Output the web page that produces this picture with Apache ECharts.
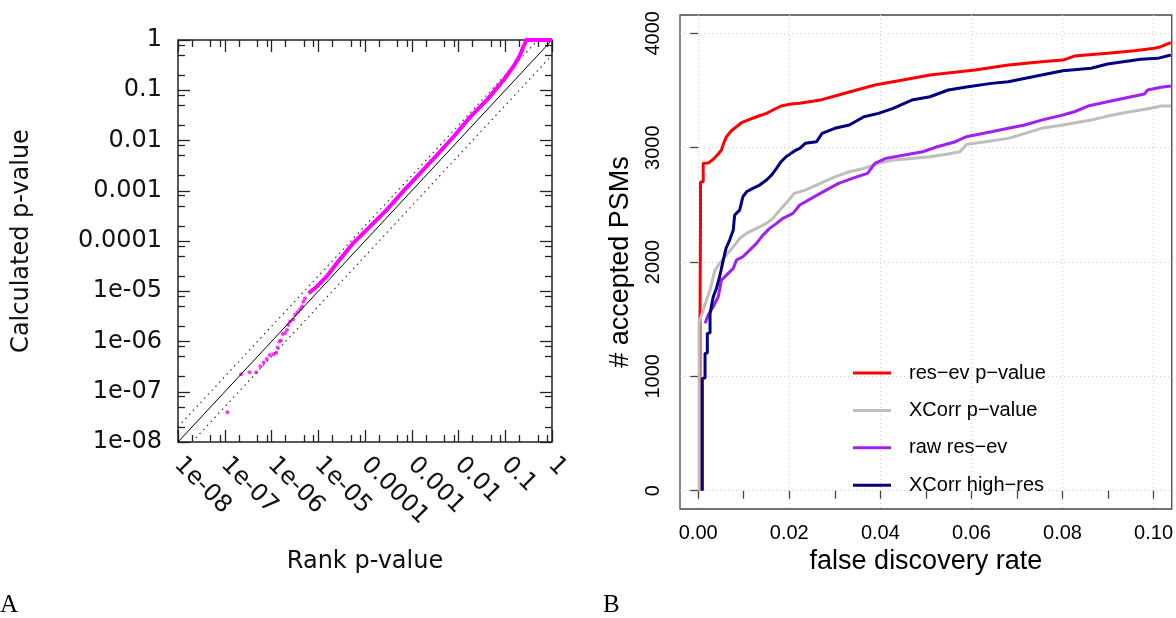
<!DOCTYPE html>
<html>
<head>
<meta charset="utf-8">
<script src="https://cdn.jsdelivr.net/npm/echarts@6.0.0/dist/echarts.min.js"></script>
<style>
  html, body { margin: 0; padding: 0; background: #fff; }
  #chart { width: 1176px; height: 618px; }
</style>
</head>
<body>
<div id="chart"></div>
<script>
// ---- panel A: QQ plot of p-values (log-log) ----
const pDecades = [1e-8, 1e-7, 1e-6, 1e-5, 1e-4, 1e-3, 1e-2, 1e-1, 1]
const pLabels = ['1e-08', '1e-07', '1e-06', '1e-05', '0.0001', '0.001', '0.01', '0.1', '1']

// sparse tail, drawn as single points
const tailRank = [1.14e-7, 2.24e-7, 3.4e-7, 4.7e-7, 5.8e-7, 6.8e-7, 7.9e-7, 9.1e-7, 1.1e-6, 1.26e-6, 1.35e-6, 1.48e-6, 1.58e-6, 1.74e-6, 1.95e-6, 2.14e-6, 2.3e-6, 2.5e-6, 2.9e-6, 3.2e-6, 3.6e-6, 4.1e-6, 4.5e-6, 4.8e-6, 5.2e-6]
const tailCalc = [3.9e-8, 2.24e-7, 2.45e-7, 2.45e-7, 3.2e-7, 3.8e-7, 4.5e-7, 5.4e-7, 5.6e-7, 6.0e-7, 7.6e-7, 1.0e-6, 1.05e-6, 1.41e-6, 1.48e-6, 1.7e-6, 2.14e-6, 2.5e-6, 2.75e-6, 3.4e-6, 3.8e-6, 4.4e-6, 5.0e-6, 6.2e-6, 7.2e-6]

// dense body of the points (reads as a thick band)
const bodyRank = [6.2e-6, 9.3e-6, 1.5e-5, 2.5e-5, 5.6e-5, 1.29e-4, 2.95e-4, 6.6e-4, 1.51e-3, 3.5e-3, 7.9e-3, 0.0178, 0.041, 0.093, 0.151, 0.209, 0.245, 0.27, 0.27, 1]
const bodyCalc = [9.1e-6, 1.23e-5, 1.95e-5, 3.6e-5, 9.1e-5, 1.95e-4, 4.2e-4, 9.8e-4, 2.24e-3, 5.2e-3, 0.012, 0.0295, 0.065, 0.162, 0.30, 0.51, 0.74, 0.89, 1, 1]

// y = x and the factor-2 band
const diagLine = [[1e-8, 1e-8], [1, 1]]
const upperBand = [[1e-8, 2e-8], [0.5, 1]]
const lowerBand = [[2e-8, 1e-8], [1, 0.5]]

// ---- panel B: accepted PSMs vs FDR ----
const fdrTicks = [0, 0.01, 0.02, 0.03, 0.04, 0.05, 0.06, 0.07, 0.08, 0.09, 0.1]
const fdrLabels = [0, 0.02, 0.04, 0.06, 0.08, 0.1]
const psmTicks = [0, 1000, 2000, 3000, 4000]

const seriesNames = ['res\u2212ev p\u2212value', 'XCorr p\u2212value', 'raw res\u2212ev', 'XCorr high\u2212res']
const seriesColors = ['#ff0000', '#bebebe', '#a020f0', '#000080']

const resevFdr = [0.0004, 0.0004, 0.0005, 0.0005, 0.0011, 0.0011, 0.0022, 0.0033, 0.0044, 0.0051, 0.0056, 0.0062, 0.0073, 0.0084, 0.0095, 0.0109, 0.0128, 0.0150, 0.0164, 0.0182, 0.0204, 0.0223, 0.0268, 0.0308, 0.0348, 0.0388, 0.0428, 0.0509, 0.0608, 0.0681, 0.0754, 0.0801, 0.0826, 0.0899, 0.0958, 0.1002, 0.1016, 0.1038]
const resevPsm = [0, 1480, 2350, 2700, 2702, 2863, 2865, 2898, 2944, 2979, 3038, 3096, 3148, 3183, 3218, 3241, 3270, 3300, 3329, 3364, 3381, 3388, 3416, 3460, 3504, 3548, 3577, 3635, 3679, 3723, 3752, 3766, 3801, 3825, 3848, 3869, 3883, 3918]

const xcorrFdr = [0.0002, 0.0002, 0.0011, 0.0018, 0.0026, 0.0033, 0.0037, 0.0047, 0.0062, 0.0077, 0.0091, 0.0106, 0.0120, 0.0135, 0.0150, 0.0164, 0.0179, 0.0193, 0.0211, 0.0235, 0.0268, 0.0300, 0.0332, 0.0364, 0.0396, 0.0428, 0.0469, 0.0509, 0.0549, 0.0575, 0.0590, 0.0608, 0.0681, 0.0718, 0.0754, 0.0801, 0.0863, 0.0899, 0.0936, 0.0994, 0.1016, 0.1038]
const xcorrPsm = [0, 1470, 1579, 1667, 1754, 1871, 1929, 1988, 2060, 2133, 2206, 2250, 2279, 2308, 2338, 2381, 2454, 2513, 2600, 2629, 2688, 2745, 2789, 2819, 2863, 2892, 2906, 2920, 2944, 2964, 3030, 3038, 3081, 3125, 3169, 3198, 3241, 3276, 3305, 3344, 3364, 3364]

const rawFdr = [0.0015, 0.0022, 0.0033, 0.0044, 0.0051, 0.0062, 0.0077, 0.0084, 0.0098, 0.0113, 0.0128, 0.0142, 0.0157, 0.0172, 0.0186, 0.0208, 0.0223, 0.0268, 0.0308, 0.0348, 0.0372, 0.0388, 0.0412, 0.0453, 0.0493, 0.0525, 0.0565, 0.0589, 0.0608, 0.0644, 0.0681, 0.0717, 0.0754, 0.0801, 0.0826, 0.0856, 0.0899, 0.0951, 0.0980, 0.0987, 0.1016, 0.1038]
const rawPsm = [1463, 1536, 1608, 1696, 1842, 1885, 1944, 2017, 2046, 2104, 2163, 2235, 2294, 2338, 2381, 2425, 2498, 2600, 2688, 2745, 2775, 2863, 2906, 2935, 2964, 3008, 3052, 3096, 3110, 3139, 3169, 3198, 3241, 3285, 3314, 3364, 3402, 3445, 3469, 3504, 3528, 3539]

const hiresFdr = [0.0009, 0.0009, 0.0015, 0.0015, 0.0020, 0.0020, 0.0026, 0.0026, 0.0033, 0.0040, 0.0047, 0.0055, 0.0061, 0.0069, 0.0077, 0.0080, 0.0091, 0.0098, 0.0106, 0.0120, 0.0135, 0.0150, 0.0161, 0.0172, 0.0182, 0.0193, 0.0204, 0.0215, 0.0223, 0.0235, 0.0260, 0.0272, 0.0300, 0.0332, 0.0364, 0.0396, 0.0428, 0.0469, 0.0509, 0.0549, 0.0589, 0.0644, 0.0681, 0.0754, 0.0801, 0.0863, 0.0899, 0.0972, 0.1009, 0.1038]
const hiresPsm = [0, 982, 985, 1200, 1205, 1375, 1380, 1550, 1696, 1769, 1871, 2017, 2119, 2192, 2279, 2410, 2454, 2570, 2614, 2644, 2673, 2717, 2760, 2819, 2877, 2920, 2950, 2979, 2994, 3038, 3052, 3125, 3169, 3198, 3270, 3300, 3344, 3416, 3445, 3504, 3530, 3562, 3577, 3635, 3673, 3694, 3731, 3773, 3781, 3810]

const zip = (xs, ys) => xs.map((x, i) => [x, ys[i]])

// short ticks at 2, 5, 8 within each decade
const pMinor = []
pDecades.slice(0, -1).forEach(d => [2, 5, 8].forEach(m => pMinor.push(m * d)))

const fontA = 'DejaVu Sans'
const fontB = 'Liberation Sans'
const pLabel = v => pLabels[Math.round(Math.log10(v)) + 8]

// one log axis of panel A; which side and which tick set
function logAxis(position, ticks, len, withLabels) {
  return {
    type: 'log',
    gridIndex: 0,
    position,
    min: 1e-8,
    max: 1,
    logBase: 10,
    axisLine: { show: false },
    splitLine: { show: false },
    axisTick: { show: true, inside: true, length: len, customValues: ticks, lineStyle: { color: '#222', width: 1.3 } },
    axisLabel: withLabels ? { show: true, customValues: pDecades, formatter: pLabel } : { show: false }
  }
}

const xA = logAxis('bottom', pDecades, 12, true)
Object.assign(xA, { name: 'Rank p-value', nameLocation: 'middle', nameGap: 108,
  nameTextStyle: { fontFamily: fontA, fontSize: 24, color: '#111' } })
Object.assign(xA.axisLabel, { rotate: -45, margin: 19, fontFamily: fontA, fontSize: 24, color: '#111' })

const yA = logAxis('left', pDecades, 12, true)
Object.assign(yA, { name: 'Calculated p-value', nameLocation: 'middle', nameGap: 144,
  nameTextStyle: { fontFamily: fontA, fontSize: 24, color: '#111' } })
Object.assign(yA.axisLabel, { margin: 16, fontFamily: fontA, fontSize: 24, color: '#111' })

const chart = echarts.init(document.getElementById('chart'), null, { renderer: 'canvas' })

chart.setOption({
  animation: false,
  backgroundColor: '#fff',
  title: [
    { text: 'A', left: 0, top: 593, padding: 0, textStyle: { fontFamily: 'Liberation Serif', fontWeight: 'normal', fontSize: 25, color: '#000' } },
    { text: 'B', left: 603, top: 593, padding: 0, textStyle: { fontFamily: 'Liberation Serif', fontWeight: 'normal', fontSize: 25, color: '#000' } }
  ],
  grid: [
    { left: 178, top: 40, width: 374, height: 402, show: true, borderColor: '#222', borderWidth: 1.5, containLabel: false },
    { left: 680, top: 15, width: 492, height: 494, show: true, borderColor: '#444', borderWidth: 1.3, containLabel: false }
  ],
  legend: {
    data: seriesNames,
    orient: 'vertical',
    left: 853,
    top: 363,
    padding: 0,
    icon: 'rect',
    itemWidth: 38,
    itemHeight: 3,
    itemGap: 17.4,
    selectedMode: false,
    textStyle: { fontFamily: fontB, fontSize: 20, color: '#000', padding: [0, 0, 0, 13] }
  },
  xAxis: [
    xA,
    logAxis('top', pDecades, 12, false),
    logAxis('bottom', pMinor, 7, false),
    logAxis('top', pMinor, 7, false),
    {
      type: 'value', gridIndex: 1, position: 'bottom', min: -0.004, max: 0.104,
      name: 'false discovery rate', nameLocation: 'middle', nameGap: 39,
      nameTextStyle: { fontFamily: fontB, fontSize: 27, color: '#000' },
      axisLine: { show: false },
      axisTick: { show: true, length: 8, customValues: fdrTicks, lineStyle: { color: '#444', width: 1.3 } },
      axisLabel: { customValues: fdrLabels, formatter: v => v.toFixed(2), margin: 14, fontFamily: fontB, fontSize: 20, color: '#000' },
      splitLine: { show: false }
    },
    {
      // carries the dotted vertical grid only
      type: 'value', gridIndex: 1, position: 'bottom', min: -0.004, max: 0.104,
      axisLine: { show: false },
      axisTick: { show: false, customValues: fdrLabels },
      axisLabel: { show: false, customValues: fdrLabels },
      splitLine: { show: true, lineStyle: { color: '#d0d0d0', width: 1, type: [1, 3] } }
    }
  ],
  yAxis: [
    yA,
    logAxis('right', pDecades, 12, false),
    logAxis('left', pMinor, 7, false),
    logAxis('right', pMinor, 7, false),
    {
      type: 'value', gridIndex: 1, position: 'left', min: -160, max: 4160,
      name: '# accepted PSMs', nameLocation: 'middle', nameGap: 46,
      nameTextStyle: { fontFamily: fontB, fontSize: 27, color: '#000' },
      axisLine: { show: false },
      axisTick: { show: true, length: 8, customValues: psmTicks, lineStyle: { color: '#444', width: 1.3 } },
      axisLabel: { customValues: psmTicks, formatter: v => String(v), rotate: 90, margin: 17, fontFamily: fontB, fontSize: 20, color: '#000' },
      splitLine: { show: true, lineStyle: { color: '#d0d0d0', width: 1, type: [1, 3] } }
    }
  ],
  series: [
    { type: 'line', xAxisIndex: 0, yAxisIndex: 0, data: upperBand, showSymbol: false, silent: true,
      lineStyle: { color: '#333', width: 1.2, type: [1.5, 4] } },
    { type: 'line', xAxisIndex: 0, yAxisIndex: 0, data: lowerBand, showSymbol: false, silent: true,
      lineStyle: { color: '#333', width: 1.2, type: [1.5, 4] } },
    { type: 'line', xAxisIndex: 0, yAxisIndex: 0, data: diagLine, showSymbol: false, silent: true,
      lineStyle: { color: '#000', width: 1 } },
    { type: 'line', xAxisIndex: 0, yAxisIndex: 0, data: zip(bodyRank, bodyCalc), showSymbol: false,
      lineStyle: { color: '#ff00ff', width: 4 } },
    { type: 'scatter', xAxisIndex: 0, yAxisIndex: 0, data: zip(tailRank, tailCalc), symbolSize: 4,
      itemStyle: { color: '#ff00ff' } },

    ...[zip(resevFdr, resevPsm), zip(xcorrFdr, xcorrPsm), zip(rawFdr, rawPsm), zip(hiresFdr, hiresPsm)].map((d, i) => ({
      name: seriesNames[i],
      type: 'line',
      xAxisIndex: 4,
      yAxisIndex: 4,
      data: d,
      showSymbol: false,
      color: seriesColors[i],
      lineStyle: { color: seriesColors[i], width: 3 }
    }))
  ]
})
</script>
</body>
</html>
